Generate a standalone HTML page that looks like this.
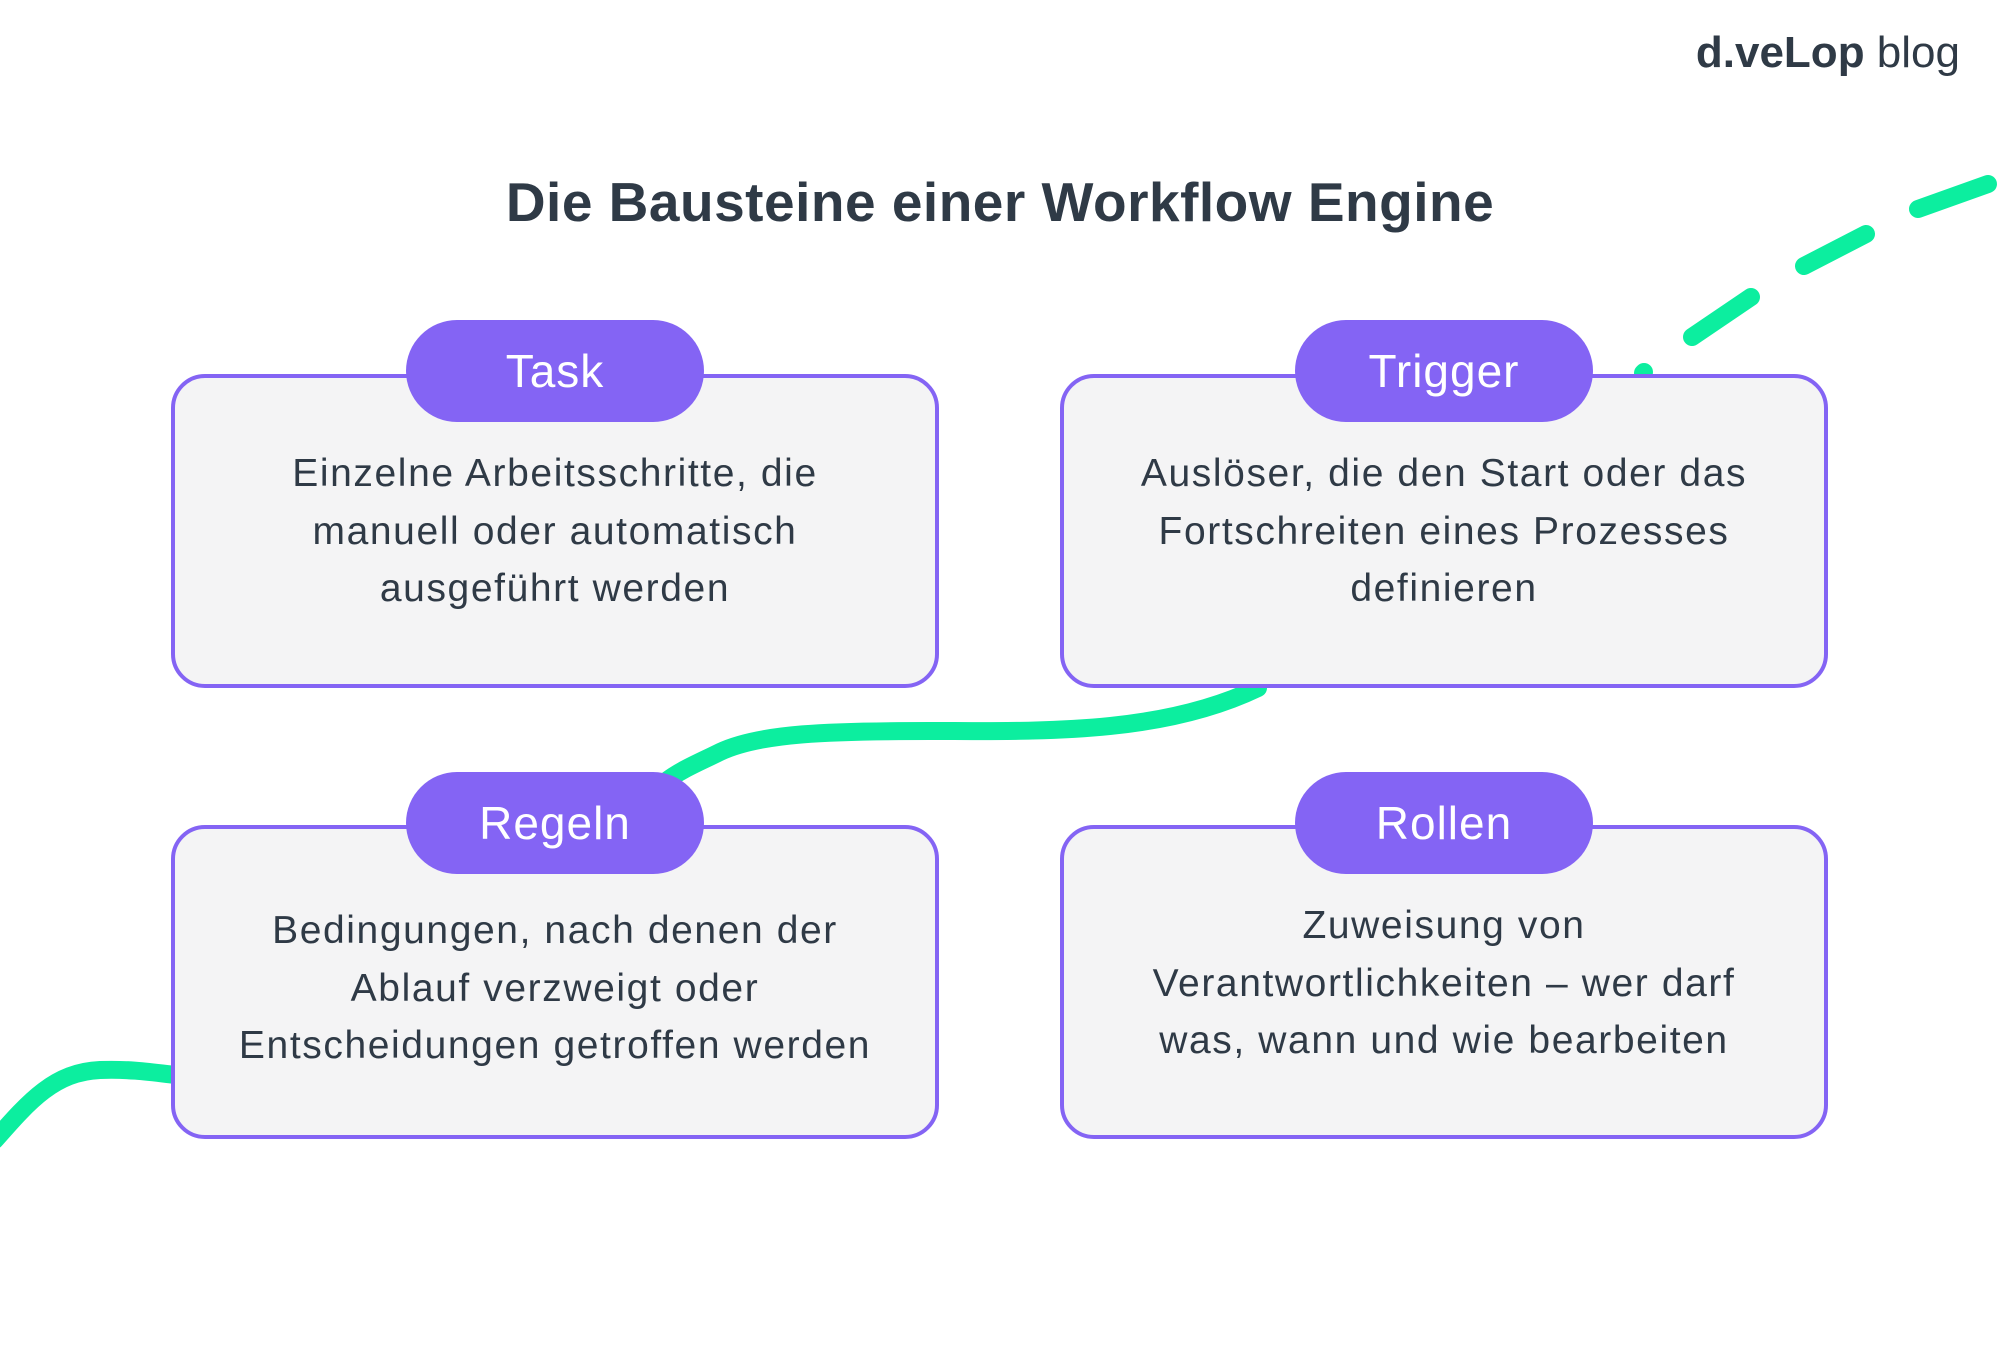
<!DOCTYPE html>
<html><head><meta charset="utf-8"><style>
*{margin:0;padding:0;box-sizing:border-box}
body{width:2000px;height:1350px;background:#fff;position:relative;overflow:hidden;font-family:"Liberation Sans",sans-serif;color:#2f3a46}
svg{position:absolute;left:0;top:0}
.box{position:absolute;width:768px;height:314px;background:#f4f4f5;border:4px solid #8464f4;border-radius:34px}
.pill{position:absolute;width:298px;height:102px;background:#8464f4;border-radius:51px;color:#fff;font-size:46px;letter-spacing:1px;display:flex;align-items:center;justify-content:center}
.txt{position:absolute;width:768px;text-align:center;font-size:39px;letter-spacing:1.6px;line-height:57.5px}
.title{position:absolute;left:0;width:2000px;top:170px;text-align:center;font-size:55px;font-weight:bold;letter-spacing:0.5px}
.logo{position:absolute;right:40px;top:28px;font-size:44px;color:#2f3a46}
</style></head><body>
<div class="logo"><b>d.veLop</b> blog</div>
<div class="title">Die Bausteine einer Workflow Engine</div>
<svg width="2000" height="1350">
<g fill="none" stroke="#0cee9f" stroke-width="18" stroke-linecap="round">
<path d="M1258,688 C1160,735 1040,731 930,731 C830,731 760,733 720,752 C700,762 680,770 665,782"/>
<path d="M-5,1140 C30,1100 55,1072 100,1070 C130,1069 150,1072 175,1075"/>
<line x1="1643" y1="373" x2="1644" y2="372"/>
<line x1="1692" y1="337" x2="1751" y2="297"/>
<line x1="1804" y1="266" x2="1866" y2="234"/>
<line x1="1918" y1="209" x2="1988" y2="184"/>
</g></svg>
<div class="box" style="left:171px;top:374px"></div>
<div class="box" style="left:1060px;top:374px"></div>
<div class="box" style="left:171px;top:825px"></div>
<div class="box" style="left:1060px;top:825px"></div>
<div class="pill" style="left:406px;top:320px">Task</div>
<div class="pill" style="left:1295px;top:320px">Trigger</div>
<div class="pill" style="left:406px;top:772px">Regeln</div>
<div class="pill" style="left:1295px;top:772px">Rollen</div>
<div class="txt" style="left:171px;top:445px">Einzelne Arbeitsschritte, die<br>manuell oder automatisch<br>ausgeführt werden</div>
<div class="txt" style="left:1060px;top:445px">Auslöser, die den Start oder das<br>Fortschreiten eines Prozesses<br>definieren</div>
<div class="txt" style="left:171px;top:902px">Bedingungen, nach denen der<br>Ablauf verzweigt oder<br>Entscheidungen getroffen werden</div>
<div class="txt" style="left:1060px;top:897px">Zuweisung von<br>Verantwortlichkeiten – wer darf<br>was, wann und wie bearbeiten</div>
</body></html>
